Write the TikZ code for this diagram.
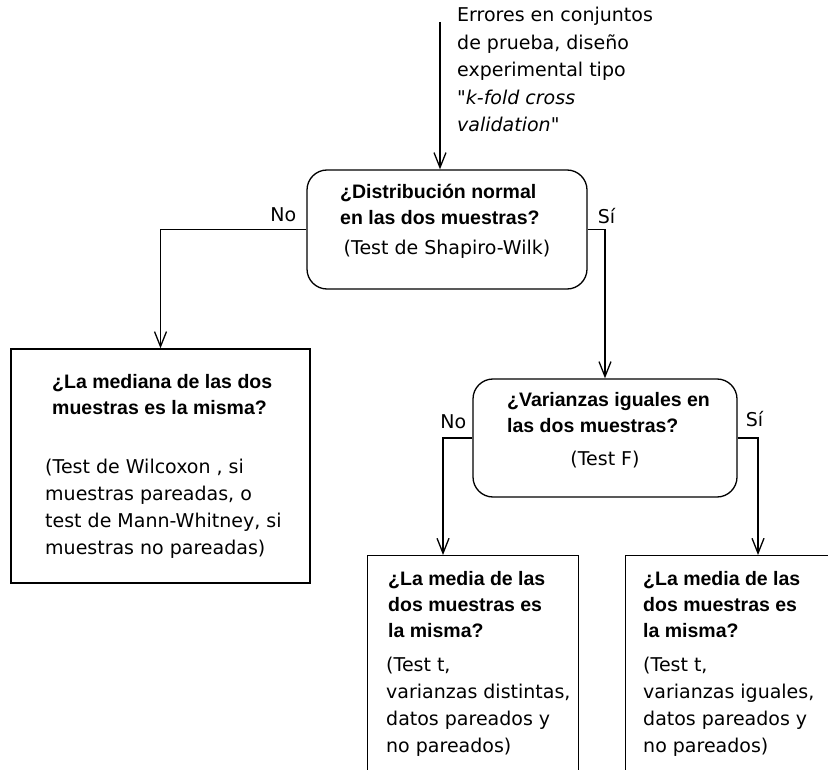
\documentclass[tikz,border=0pt]{standalone}
\usepackage{fontspec}
\setmainfont{DejaVu Sans}
\newfontfamily\askfont{Liberation Sans}
\newfontfamily\quotefont{DejaVu Sans}
\usepackage{tikz}
\usetikzlibrary{positioning, arrows.meta}

\begin{document}
\begin{tikzpicture}[
  x=1pt, y=-1pt,
  box/.style={draw, line width=1.3pt, inner sep=0pt},
  decision/.style={box, rounded corners=20pt},
  answer/.style={box},
  ask/.style={font=\askfont\bfseries\fontsize{19.5}{26}\selectfont, align=left, inner sep=0pt, anchor=base west},
  note/.style={font=\fontsize{19}{27}\selectfont, align=left, inner sep=0pt, anchor=base west},
  lbl/.style={font=\fontsize{19}{23}\selectfont, inner sep=0pt},
  arr/.style={line width=1.3pt, -{Straight Barb[length=15pt,width=12pt]}}
]
  \useasboundingbox (0,0) rectangle (828,770);
  \clip (0,0) rectangle (828,770);

  % Boxes
  \node[decision, minimum width=280pt, minimum height=119pt] (normal) at (447,229.5) {};
  \node[answer, minimum width=299pt, minimum height=234pt] (mediana) at (160.5,466) {};
  \node[decision, minimum width=264pt, minimum height=118pt] (varianzas) at (605,438) {};
  \node[answer, minimum width=211pt, minimum height=240pt, anchor=north west] (mediaA) at (367,555) {};
  \node[answer, minimum width=211pt, minimum height=240pt, anchor=north west] (mediaB) at (625,555) {};

  % Texts (anchored at the baseline of their last line)
  \coordinate (src) at (440,22);
  \node[note, font=\fontsize{19}{27.5}\selectfont] (intro) at (457,132) {Errores en conjuntos\\de prueba, diseño\\experimental tipo\\{\quotefont\itshape "k-fold cross}\\{\quotefont\itshape validation"}};
  \node[ask] (q1) at (340,225) {¿Distribución normal\\en las dos muestras?};
  \node[note, anchor=base] (t1) at (447,255) {(Test de Shapiro-Wilk)};
  \node[ask] (q2) at (52,414) {¿La mediana de las dos\\muestras es la misma?};
  \node[note] (t2) at (45,554) {(Test de Wilcoxon , si\\muestras pareadas, o\\test de Mann-Whitney, si\\muestras no pareadas)};
  \node[ask] (q3) at (507,432) {¿Varianzas iguales en\\las dos muestras?};
  \node[note, anchor=base] (t3) at (605,465) {(Test F)};
  \node[ask] (q4) at (388,637) {¿La media de las\\dos muestras es\\la misma?};
  \node[note] (t4) at (386,752) {(Test t,\\varianzas distintas,\\datos pareados y\\no pareados)};
  \node[ask] (q5) at (643,637) {¿La media de las\\dos muestras es\\la misma?};
  \node[note] (t5) at (643,752) {(Test t,\\varianzas iguales,\\datos pareados y\\no pareados)};

  % Connectors
  \draw[arr] (src) -- (src |- normal.north);
  \draw[arr] (normal.west) -| (mediana.north);
  \draw[arr] (normal.east) -| (varianzas.north);
  \draw[arr] (varianzas.west) -| ([xshift=76pt]mediaA.north west);
  \draw[arr] (varianzas.east) -| ([xshift=133pt]mediaB.north west);

  % Labels
  \node[lbl, above left=8pt and 10pt of normal.west] (noA) {No};
  \node[lbl, above right=6pt and 10pt of normal.east] (siA) {Sí};
  \node[lbl, above left=9pt and 6pt of varianzas.west] (noB) {No};
  \node[lbl, above right=11pt and 8pt of varianzas.east] (siB) {Sí};
\end{tikzpicture}
\end{document}
